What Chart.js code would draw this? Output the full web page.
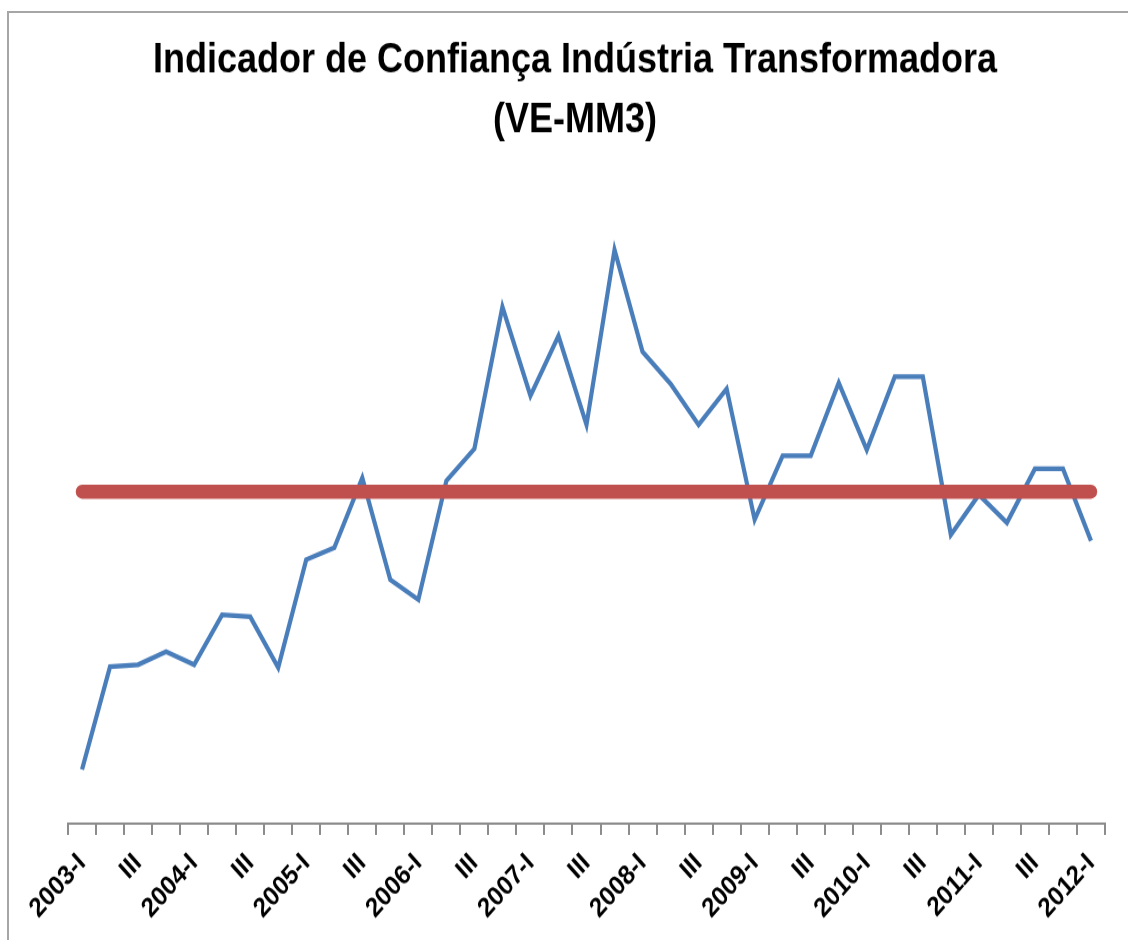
<!DOCTYPE html>
<html>
<head>
<meta charset="utf-8">
<script src="https://cdn.jsdelivr.net/npm/chart.js@4.4.1/dist/chart.umd.min.js"></script>
<style>
  html, body { margin: 0; padding: 0; background: #fff; }
  #wrap { position: relative; width: 1128px; height: 940px; overflow: hidden; }
  #frame { position: absolute; left: 7px; top: 11px; width: 1200px; height: 1000px;
           border-top: 2px solid #a6a6a6; border-left: 2px solid #a6a6a6; box-sizing: border-box; }
  canvas { position: absolute; left: 0; top: 0; }
</style>
</head>
<body>
<div id="wrap">
  <div id="frame"></div>
  <canvas id="c" width="1128" height="832" style="width:1128px;height:940px;"></canvas>
</div>
<script>
// Quarterly categories 2003-I .. 2012-I
const categories = [
  "2003-I","II","III","IV",
  "2004-I","II","III","IV",
  "2005-I","II","III","IV",
  "2006-I","II","III","IV",
  "2007-I","II","III","IV",
  "2008-I","II","III","IV",
  "2009-I","II","III","IV",
  "2010-I","II","III","IV",
  "2011-I","II","III","IV",
  "2012-I"
];

// Indicator values (VE-MM3)
const indicatorValues = [
  -27.8, -17.5, -17.3, -16.0,
  -17.3, -12.3, -12.5, -17.6,
   -6.8,  -5.6,   1.4,  -8.8,
  -10.8,   1.1,   4.3,  18.5,
    9.6,  15.6,   6.7,  24.2,
   14.0,  10.8,   6.7,  10.3,
   -2.8,   3.6,   3.6,  10.9,
    4.2,  11.5,  11.5,  -4.3,
   -0.3,  -3.1,   2.3,   2.3,
   -4.9
];

// Reference (average) level
const averageLevel = 0;
const averageValues = categories.map(() => averageLevel);

const titleLines = ["Indicador de Confiança Indústria Transformadora", "(VE-MM3)"];

const fontFamily = "'Liberation Sans', Arial, sans-serif";

new Chart(document.getElementById('c'), {
  type: 'line',
  data: {
    labels: categories,
    datasets: [
      {
        label: 'Média',
        data: averageValues,
        borderColor: '#C0504D',
        borderWidth: 12.4,
        borderCapStyle: 'round',
        pointRadius: 0,
        pointHoverRadius: 0,
        fill: false,
        order: 0
      },
      {
        label: 'VE-MM3',
        data: indicatorValues,
        borderColor: '#4A7EBB',
        borderWidth: 4.2,
        borderJoinStyle: 'miter',
        pointRadius: 0,
        pointHoverRadius: 0,
        tension: 0,
        fill: false,
        order: 1
      }
    ]
  },
  options: {
    responsive: false,
    animation: false,
    layout: { padding: { left: 45, right: 23, top: 0, bottom: 0 } },
    plugins: {
      legend: { display: false },
      tooltip: { enabled: false },
      title: {
        display: true,
        text: titleLines,
        color: '#000',
        font: { family: fontFamily, size: 36, weight: 'bold', lineHeight: 1.47 },
        padding: { top: 28, bottom: 43 }
      }
    },
    scales: {
      x: {
        type: 'category',
        offset: true,
        afterFit: (scale) => { scale.height = 103; },
        grid: {
          offset: true,
          drawOnChartArea: false,
          drawTicks: true,
          tickLength: 10,
          color: '#8c8c8c',
          lineWidth: 2
        },
        border: { display: true, color: '#8c8c8c', width: 2 },
        ticks: {
          autoSkip: false,
          minRotation: 45,
          maxRotation: 45,
          padding: 11,
          color: '#000',
          font: { family: fontFamily, size: 24, weight: 'bold' },
          callback: function (value, index) {
            return index % 2 === 0 ? categories[index] : '';
          }
        }
      },
      y: {
        display: true,
        min: -33.2,
        max: 29.2,
        afterFit: (scale) => { scale.width = 23; },
        ticks: { display: false },
        grid: { display: false },
        border: { display: false }
      }
    }
  }
});
</script>
</body>
</html>
